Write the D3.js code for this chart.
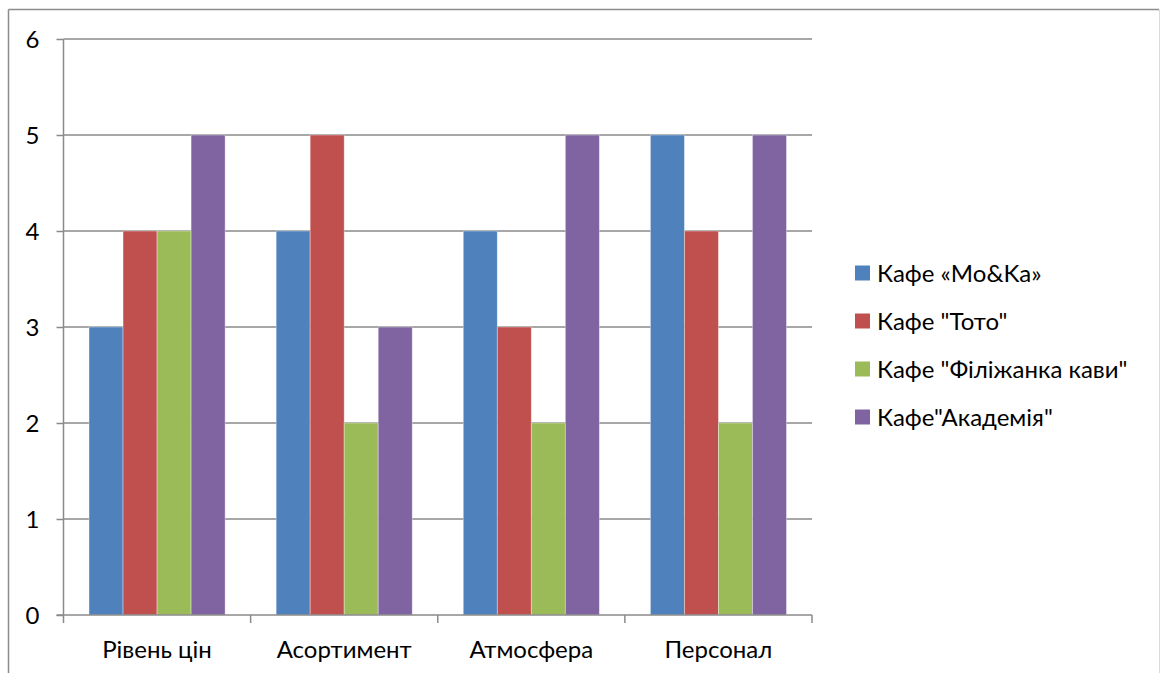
<!DOCTYPE html>
<html>
<head>
<meta charset="utf-8">
<script src="https://cdn.jsdelivr.net/npm/d3@7/dist/d3.min.js"></script>
<style>
  html, body { margin: 0; padding: 0; background: #fff; }
  svg { display: block; }
  text { font-family: Lato, "Open Sans", sans-serif; fill: #000; }
</style>
</head>
<body>
<svg id="chart" width="1160" height="673"></svg>
<script>
// Ratings of four cafes across four criteria
const categories = ["Рівень цін", "Асортимент", "Атмосфера", "Персонал"];
const seriesNames = ["Кафе «Mo&Ka»", "Кафе \"Тото\"", "Кафе \"Філіжанка кави\"", "Кафе\"Академія\""];
const mokaValues = [3, 4, 4, 5];
const totoValues = [4, 5, 3, 4];
const filizhankaValues = [4, 2, 2, 2];
const akademiaValues = [5, 3, 5, 5];
const yTicks = [0, 1, 2, 3, 4, 5, 6];
const colors = ["#4F81BD", "#C0504D", "#9BBB59", "#8064A2"];

const seriesValues = [mokaValues, totoValues, filizhankaValues, akademiaValues];
const FONT_SIZE = 24;

const svg = d3.select("#chart");
const plot = { left: 63.5, right: 812, top: 39, bottom: 615 };

// outer chart frame
svg.append("line").attr("x1", 8.5).attr("y1", 9.5).attr("x2", 1159).attr("y2", 9.5)
  .attr("stroke", "#8c8c8c").attr("stroke-width", 1.5);
svg.append("line").attr("x1", 8.5).attr("y1", 9.5).attr("x2", 8.5).attr("y2", 673)
  .attr("stroke", "#8c8c8c").attr("stroke-width", 1.5);
svg.append("line").attr("x1", 1159.5).attr("y1", 9.5).attr("x2", 1159.5).attr("y2", 673)
  .attr("stroke", "#d9d9d9").attr("stroke-width", 1);

const x0 = d3.scaleBand().domain(categories).range([plot.left, plot.right]).paddingInner(0).paddingOuter(0);
const x1 = d3.scaleBand().domain(d3.range(seriesNames.length))
  .range([0, x0.bandwidth()]).paddingOuter(0.75).paddingInner(0);
const y = d3.scaleLinear().domain([0, 6]).range([plot.bottom, plot.top]);

// horizontal gridlines
svg.append("g").selectAll("line").data(yTicks.filter(t => t > 0)).join("line")
  .attr("x1", plot.left).attr("x2", plot.right)
  .attr("y1", d => y(d)).attr("y2", d => y(d))
  .attr("stroke", "#8a8a8a").attr("stroke-width", 1.5);

// bars
const groups = svg.append("g").selectAll("g").data(categories).join("g")
  .attr("transform", d => `translate(${x0(d)},0)`);
groups.selectAll("rect")
  .data((c, ci) => seriesValues.map((vals, si) => ({ si, v: vals[ci] })))
  .join("rect")
  .attr("x", d => x1(d.si))
  .attr("width", x1.bandwidth())
  .attr("y", d => y(d.v))
  .attr("height", d => y(0) - y(d.v))
  .attr("fill", d => colors[d.si])
  .attr("stroke", "rgba(255,255,255,0.45)")
  .attr("stroke-width", 0.8);

// y axis
const yAxis = d3.axisLeft(y).tickValues(yTicks).tickSize(7).tickPadding(17)
  .tickFormat(d3.format("d"));
const ya = svg.append("g").attr("transform", `translate(${plot.left},0)`).call(yAxis);
ya.select(".domain").attr("stroke", "#8a8a8a").attr("stroke-width", 1.5)
  .attr("d", `M0,${plot.top}V${plot.bottom}`);
ya.selectAll(".tick line").attr("stroke", "#8a8a8a").attr("stroke-width", 1.5);
ya.selectAll(".tick text").attr("font-size", FONT_SIZE).attr("font-family", "Lato, sans-serif")
  .attr("fill", "#000").attr("dy", "0.36em");

// x axis with boundary ticks between categories
const xa = svg.append("g").attr("transform", `translate(0,${plot.bottom})`);
xa.append("line").attr("x1", plot.left - 7).attr("x2", plot.right)
  .attr("stroke", "#8a8a8a").attr("stroke-width", 1.5);
const bounds = categories.map(c => x0(c)).concat([plot.right]);
xa.selectAll("line.tk").data(bounds).join("line").attr("class", "tk")
  .attr("x1", d => d).attr("x2", d => d).attr("y1", 0).attr("y2", 8)
  .attr("stroke", "#8a8a8a").attr("stroke-width", 1.5);
xa.selectAll("text").data(categories).join("text")
  .attr("x", d => x0(d) + x0.bandwidth() / 2)
  .attr("y", 43)
  .attr("text-anchor", "middle")
  .attr("font-size", FONT_SIZE)
  .text(d => d);

// legend
const legend = svg.append("g").selectAll("g").data(seriesNames).join("g")
  .attr("transform", (d, i) => `translate(855,${273 + i * 48})`);
legend.append("rect").attr("x", 0).attr("y", -7.5).attr("width", 15).attr("height", 15)
  .attr("fill", (d, i) => colors[i]);
legend.append("text").attr("x", 22).attr("y", 0).attr("dy", "0.36em")
  .attr("font-size", FONT_SIZE).text(d => d);
</script>
</body>
</html>
